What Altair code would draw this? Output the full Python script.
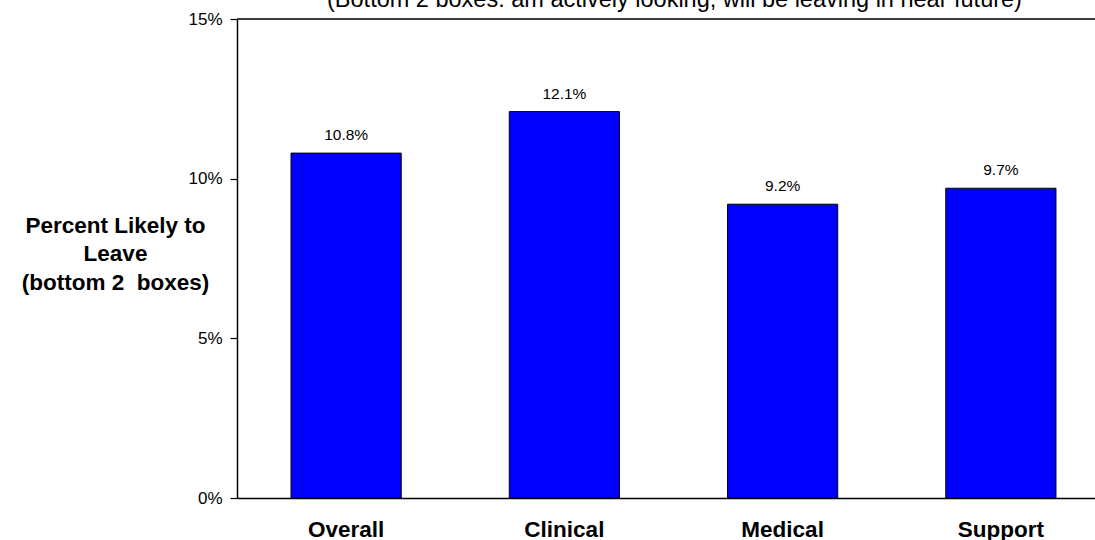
import altair as alt
import pandas as pd

# Share of staff likely to leave, by staff group (percent)
groups = ["Overall", "Clinical", "Medical", "Support"]
likely_to_leave = [10.8, 12.1, 9.2, 9.7]
value_labels = ["10.8%", "12.1%", "9.2%", "9.7%"]

y_ticks = [0, 5, 10, 15]
y_title_lines = ["Percent Likely to", "Leave", "(bottom 2\u00a0 boxes)"]
chart_title = ["(Bottom 2 boxes: am actively looking, will be leaving in near future)"]

df = pd.DataFrame({"group": groups, "pct": likely_to_leave, "label": value_labels})

FONT = "Liberation Sans"

x_enc = alt.X(
    "group:N",
    sort=groups,
    scale=alt.Scale(range=[0, 873], paddingInner=0.495, paddingOuter=0.2475),
    axis=alt.Axis(
        title=None,
        labelAngle=0,
        labelFont=FONT,
        labelFontSize=22.5,
        labelFontWeight="bold",
        labelColor="black",
        labelBaseline="alphabetic",
        labelPadding=38,
        ticks=False,
        tickSize=0,
        domainColor="black",
        domainWidth=1.5,
    ),
)

y_enc = alt.Y(
    "pct:Q",
    scale=alt.Scale(domain=[0, 15], nice=False),
    axis=alt.Axis(
        values=y_ticks,
        labelExpr="datum.value + '%'",
        labelFont=FONT,
        labelFontSize=17,
        labelColor="black",
        labelPadding=8,
        tickSize=7,
        tickColor="black",
        tickWidth=1.2,
        domainColor="black",
        domainWidth=1.5,
        grid=False,
        title=y_title_lines,
        titleAngle=0,
        titleX=-122,
        titleY=213,
        titleAlign="center",
        titleBaseline="alphabetic",
        titleFont=FONT,
        titleFontSize=22.5,
        titleFontWeight="bold",
        titleColor="black",
        titleLineHeight=28.5,
    ),
)

base = alt.Chart(df)

bars = base.mark_bar(color="#0000FF", stroke="black", strokeWidth=1).encode(x=x_enc, y=y_enc)

labels = base.mark_text(
    font=FONT, fontSize=15.5, color="black", baseline="alphabetic", dy=-13
).encode(x=alt.X("group:N", sort=groups), y="pct:Q", text="label:N")

# top frame line at the 15% level
top_line = alt.Chart(pd.DataFrame({"top": [15]})).mark_rule(
    color="black", strokeWidth=1.5
).encode(y="top:Q")

# chart heading, centred over the full band range, sitting just above the frame
heading = alt.Chart(pd.DataFrame({"t": chart_title})).mark_text(
    font=FONT, fontSize=23.5, color="black", align="center", baseline="alphabetic"
).encode(text="t:N", x=alt.value(437.5), y=alt.value(-12))

chart = (
    alt.layer(bars, labels, top_line, heading)
    .properties(
        width=858,
        height=479,
        autosize=alt.AutoSizeParams(type="none"),
        padding={"left": 237, "top": 19, "right": 0, "bottom": 42},
    )
    .configure_view(stroke=None)
    .configure(background="white")
)

chart.save("out.html", embed_options={"renderer": "svg", "actions": False})
